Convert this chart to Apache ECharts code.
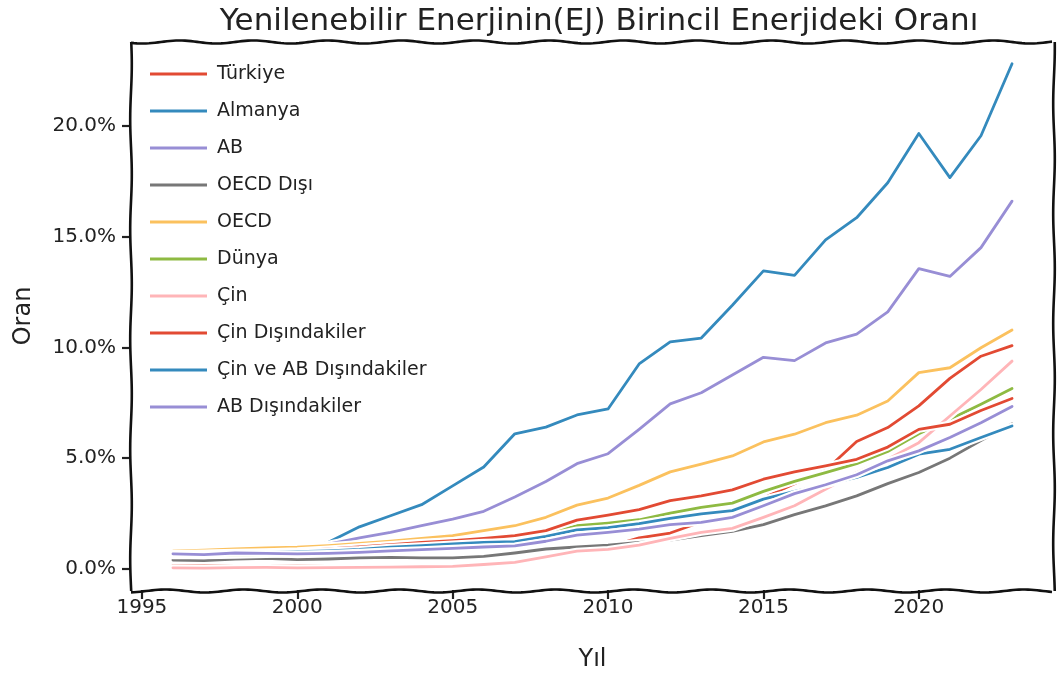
<!DOCTYPE html>
<html>
<head>
<meta charset="utf-8">
<script src="https://cdn.jsdelivr.net/npm/echarts@6/dist/echarts.min.js"></script>
<style>
  html, body { margin: 0; padding: 0; background: #fff; }
  #chart { width: 1057px; height: 677px; }
</style>
</head>
<body>
<div id="chart"></div>
<script>
// Yıllar
const years = [1996, 1997, 1998, 1999, 2000, 2001, 2002, 2003, 2004, 2005,
               2006, 2007, 2008, 2009, 2010, 2011, 2012, 2013, 2014, 2015,
               2016, 2017, 2018, 2019, 2020, 2021, 2022, 2023];

// Yenilenebilir enerjinin birincil enerjideki payı (%)
const turkiye   = [0.15, 0.15, 0.15, 0.15, 0.15, 0.15, 0.15, 0.15, 0.15, 0.15,
                   0.2, 0.3, 0.5, 0.8, 1.0, 1.4, 1.62, 2.12, 2.3, 3.2,
                   3.85, 4.45, 5.75, 6.38, 7.36, 8.6, 9.6, 10.08];
const almanya   = [0.62, 0.6, 0.65, 0.72, 0.9, 1.2, 1.9, 2.4, 2.9, 3.75,
                   4.6, 6.1, 6.4, 6.95, 7.22, 9.25, 10.25, 10.42, 11.9, 13.45,
                   13.25, 14.85, 15.85, 17.43, 19.65, 17.66, 19.55, 22.8];
const ab        = [0.65, 0.68, 0.72, 0.78, 0.95, 1.12, 1.4, 1.65, 1.95, 2.25,
                   2.6, 3.25, 3.95, 4.75, 5.2, 6.3, 7.45, 7.95, 8.75, 9.55,
                   9.4, 10.2, 10.6, 11.6, 13.55, 13.2, 14.5, 16.6];
const oecdDisi  = [0.4, 0.38, 0.45, 0.48, 0.42, 0.45, 0.5, 0.52, 0.5, 0.5,
                   0.57, 0.72, 0.9, 0.99, 1.07, 1.2, 1.3, 1.5, 1.7, 2.0,
                   2.45, 2.85, 3.3, 3.85, 4.35, 5.0, 5.8, 6.55];
const oecd      = [0.8, 0.85, 0.9, 0.95, 0.98, 1.05, 1.15, 1.25, 1.38, 1.5,
                   1.73, 1.95, 2.33, 2.88, 3.2, 3.77, 4.38, 4.73, 5.1, 5.73,
                   6.08, 6.6, 6.94, 7.58, 8.86, 9.08, 9.98, 10.78];
const dunya     = [0.6, 0.6, 0.62, 0.65, 0.68, 0.72, 0.82, 0.92, 1.08, 1.18,
                   1.3, 1.38, 1.62, 1.95, 2.07, 2.22, 2.52, 2.78, 2.97, 3.5,
                   3.95, 4.35, 4.75, 5.3, 6.1, 6.75, 7.43, 8.14];
const cin       = [0.05, 0.04, 0.06, 0.07, 0.05, 0.06, 0.07, 0.08, 0.1, 0.12,
                   0.2, 0.3, 0.55, 0.8, 0.88, 1.08, 1.38, 1.65, 1.83, 2.33,
                   2.85, 3.6, 4.35, 4.95, 5.7, 6.9, 8.1, 9.38];
const cinDisi   = [0.7, 0.72, 0.75, 0.78, 0.82, 0.9, 1.0, 1.1, 1.2, 1.28,
                   1.38, 1.5, 1.73, 2.2, 2.43, 2.68, 3.08, 3.3, 3.57, 4.05,
                   4.38, 4.65, 4.95, 5.5, 6.3, 6.53, 7.15, 7.69];
const cinAbDisi = [0.7, 0.7, 0.72, 0.75, 0.78, 0.82, 0.88, 0.98, 1.05, 1.13,
                   1.2, 1.23, 1.47, 1.76, 1.86, 2.05, 2.28, 2.49, 2.63, 3.15,
                   3.5, 3.8, 4.13, 4.58, 5.18, 5.4, 5.93, 6.45];
const abDisi    = [0.68, 0.65, 0.72, 0.7, 0.68, 0.7, 0.75, 0.82, 0.87, 0.93,
                   0.99, 1.04, 1.25, 1.53, 1.65, 1.8, 2.0, 2.1, 2.33, 2.85,
                   3.4, 3.8, 4.25, 4.88, 5.33, 5.93, 6.6, 7.33];

const seriesNames  = ['Türkiye', 'Almanya', 'AB', 'OECD Dışı', 'OECD', 'Dünya', 'Çin',
                      'Çin Dışındakiler', 'Çin ve AB Dışındakiler', 'AB Dışındakiler'];
const seriesValues = [turkiye, almanya, ab, oecdDisi, oecd, dunya, cin,
                      cinDisi, cinAbDisi, abDisi];
const seriesColors = ['#E24A33', '#348ABD', '#988ED5', '#777777', '#FBC15E', '#8EBA42', '#FFB5B8',
                      '#E24A33', '#348ABD', '#988ED5'];

// Eksen işaretleri
const xTicks = [1995, 2000, 2005, 2010, 2015, 2020];
const yTicks = [0, 5, 10, 15, 20];

const FONT = "'DejaVu Sans', 'Noto Sans', sans-serif";
const INK = '#222';
const GRID = { left: 131, top: 42, right: 3, bottom: 86 };
const W = 1057, H = 677;

// Elle çizilmiş görünümlü dalgalı çerçeve
function wavyH(x0, x1, y, amp, period, phase) {
  const pts = [];
  for (let x = x0; x <= x1 + 0.1; x += 3) {
    pts.push([x, y + amp * Math.sin(2 * Math.PI * (x - x0) / period + phase)]);
  }
  return pts;
}
function wavyV(y0, y1, x, amp, period, phase) {
  const pts = [];
  for (let y = y0; y <= y1 + 0.1; y += 3) {
    pts.push([x + amp * Math.sin(2 * Math.PI * (y - y0) / period + phase), y]);
  }
  return pts;
}
const fx0 = GRID.left, fx1 = W - GRID.right, fy0 = GRID.top, fy1 = H - GRID.bottom;
const frameStyle = { stroke: '#111', lineWidth: 2.6, fill: null, lineJoin: 'round' };
const frame = [
  wavyH(fx0, fx1, fy0, 1.5, 74, 0.6),
  wavyH(fx0, fx1, fy1, 1.5, 78, 1.9),
  wavyV(fy0, fy1, fx0, 0.8, 110, 0.3),
  wavyV(fy0, fy1, fx1, 0.8, 110, 1.2)
].map(p => ({ type: 'polyline', silent: true, z: 100, shape: { points: p }, style: frameStyle }));

// Her çizginin altında beyaz bir hale, üstünde renkli çizgi
const series = [];
seriesNames.forEach((name, i) => {
  const pts = years.map((y, k) => [y, seriesValues[i][k]]);
  series.push({
    type: 'line', name: name + ' (hale)', data: pts, silent: true,
    showSymbol: false, animation: false, z: 2 + 2 * i,
    lineStyle: { color: '#ffffff', width: 7, cap: 'round', join: 'round' },
    itemStyle: { color: '#ffffff' }
  });
  series.push({
    type: 'line', name: name, data: pts,
    showSymbol: false, animation: false, z: 3 + 2 * i,
    lineStyle: { color: seriesColors[i], width: 2.8, cap: 'round', join: 'round' },
    itemStyle: { color: seriesColors[i] }
  });
});

const chart = echarts.init(document.getElementById('chart'), null, { renderer: 'canvas' });
chart.setOption({
  backgroundColor: '#ffffff',
  animation: false,
  title: {
    text: 'Yenilenebilir Enerjinin(EJ) Birincil Enerjideki Oranı',
    left: 594, top: 1, textAlign: 'center',
    textStyle: { fontFamily: FONT, fontSize: 31, fontWeight: 'normal', color: INK }
  },
  grid: { left: GRID.left, top: GRID.top, right: GRID.right, bottom: GRID.bottom, containLabel: false },
  legend: {
    data: seriesNames,
    orient: 'vertical',
    left: 145, top: 59,
    icon: 'rect',
    itemWidth: 57, itemHeight: 3,
    itemGap: 17,
    textStyle: { fontFamily: FONT, fontSize: 19, color: INK, lineHeight: 20, padding: [0, 0, 0, 5] }
  },
  xAxis: {
    type: 'value', min: 1994.65, max: 2024.35,
    name: 'Yıl', nameLocation: 'middle', nameGap: 58,
    nameTextStyle: { fontFamily: FONT, fontSize: 24, color: INK },
    axisLine: { show: false, onZero: false },
    axisTick: { show: true, length: 9, customValues: xTicks, lineStyle: { color: INK, width: 2.2 } },
    axisLabel: { customValues: xTicks, fontFamily: FONT, fontSize: 20, color: INK, margin: 8,
                 formatter: v => String(v) },
    splitLine: { show: false }
  },
  yAxis: {
    type: 'value', min: -0.95, max: 23.78,
    name: 'Oran', nameLocation: 'middle', nameGap: 95, nameRotate: 90,
    nameTextStyle: { fontFamily: FONT, fontSize: 24, color: INK },
    axisLine: { show: false, onZero: false },
    axisTick: { show: true, length: 9, customValues: yTicks, lineStyle: { color: INK, width: 2.2 } },
    axisLabel: { customValues: yTicks, fontFamily: FONT, fontSize: 20, color: INK, margin: 15,
                 formatter: v => v.toFixed(1) + '%' },
    splitLine: { show: false }
  },
  graphic: frame,
  series: series
});
</script>
</body>
</html>
